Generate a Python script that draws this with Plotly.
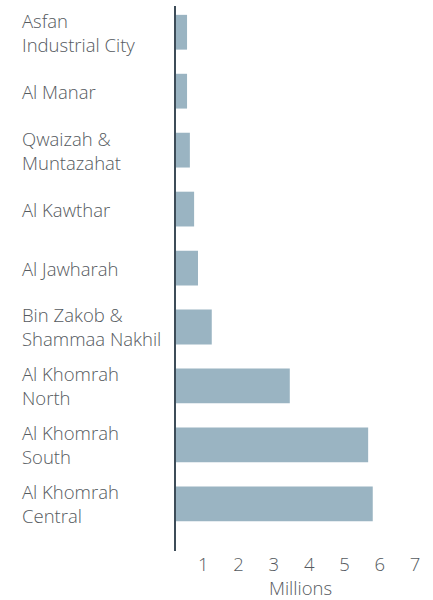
import plotly.graph_objects as go

categories = [
    "Asfan<br>Industrial City",
    "Al Manar",
    "Qwaizah &<br>Muntazahat",
    "Al Kawthar",
    "Al Jawharah",
    "Bin Zakob &<br>Shammaa Nakhil",
    "Al Khomrah<br>North",
    "Al Khomrah<br>South",
    "Al Khomrah<br>Central",
]
values = [0.54, 0.54, 0.62, 0.74, 0.85, 1.24, 3.45, 5.67, 5.80]
tick_vals = [1, 2, 3, 4, 5, 6, 7]

BAR = "#9ab4c2"
TEXT = "#555a60"
FONT = "Open Sans"
FS = 18.5

fig = go.Figure(go.Bar(
    x=values, y=categories, orientation="h",
    marker=dict(color=BAR, line=dict(width=0)),
    hoverinfo="x+y",
))

for c in categories:
    fig.add_annotation(
        x=(20 - 176) / 249, xref="paper", xanchor="left",
        y=c, yref="y", yanchor="middle",
        text=c, align="left", showarrow=False,
        font=dict(family=FONT, size=FS, color=TEXT, weight=300),
    )

fig.update_layout(
    width=433, height=600,
    margin=dict(l=176, r=8, t=6, b=44),
    plot_bgcolor="white", paper_bgcolor="white",
    bargap=0.41,
    showlegend=False,
    font=dict(family=FONT, size=FS, color=TEXT, weight=300),
)
fig.update_yaxes(
    type="category", categoryorder="array", categoryarray=categories,
    range=[8.80, -0.445],
    showticklabels=False, showgrid=False, zeroline=False,
    showline=True, linecolor="#3d4c58", linewidth=1.5,
)
fig.update_xaxes(
    range=[0.227, 7.28],
    tickvals=tick_vals, ticktext=[str(v) for v in tick_vals],
    showgrid=False, zeroline=False, showline=False,
    tickfont=dict(family=FONT, size=FS, color=TEXT, weight=300),
    title=dict(text="Millions", font=dict(family=FONT, size=FS, color=TEXT, weight=300), standoff=6),
)

fig.write_html("out.html")
